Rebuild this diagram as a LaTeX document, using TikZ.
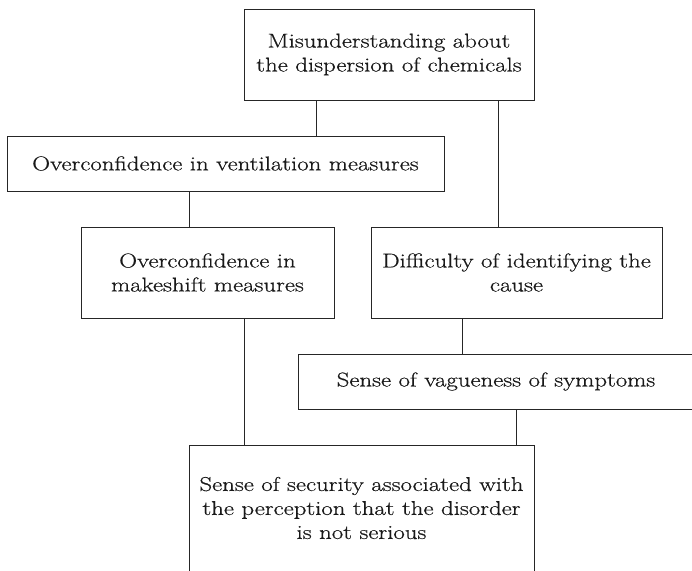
\documentclass[tikz,border=0pt]{standalone}
\usepackage{fontspec}
\setmainfont{Latin Modern Roman}[FakeStretch=1.24, FakeBold=0.6]
\begin{document}
\begin{tikzpicture}[x=1pt,y=-1pt,
  box/.style={draw=black!85, line width=0.9pt, align=center, inner sep=0pt,
    text=black!90, font=\fontsize{20}{24}\selectfont},
  link/.style={draw=black!85, line width=0.9pt}]
\useasboundingbox (0,0) rectangle (692,570);
\clip (0,0) rectangle (692,570);
\node[box, minimum width=290pt, minimum height=91pt] (top) at (389,54.5)
  {Misunderstanding about\\the dispersion of chemicals};
\node[box, minimum width=437pt, minimum height=55pt] (vent) at (225.5,163.5)
  {Overconfidence in ventilation measures};
\node[box, minimum width=253pt, minimum height=91pt] (make) at (207.5,272.5)
  {Overconfidence in\\makeshift measures};
\node[box, minimum width=291pt, minimum height=91pt] (diff) at (516.5,272.5)
  {Difficulty of identifying the\\cause};
\node[box, minimum width=396pt, minimum height=55pt] (vague) at (496,381.5)
  {Sense of vagueness of symptoms};
\node[box, minimum width=345pt, minimum height=126pt] (sec) at (361.5,508)
  {Sense of security associated with\\the perception that the disorder\\is not serious};
\draw[link] (top.south -| 316,0) -- (vent.north -| 316,0);
\draw[link] (top.south -| 498,0) -- (diff.north -| 498,0);
\draw[link] (vent.south -| 189,0) -- (make.north -| 189,0);
\draw[link] (diff.south -| 462,0) -- (vague.north -| 462,0);
\draw[link] (make.south -| 244,0) -- (sec.north -| 244,0);
\draw[link] (vague.south -| 516,0) -- (sec.north -| 516,0);
\end{tikzpicture}
\end{document}
